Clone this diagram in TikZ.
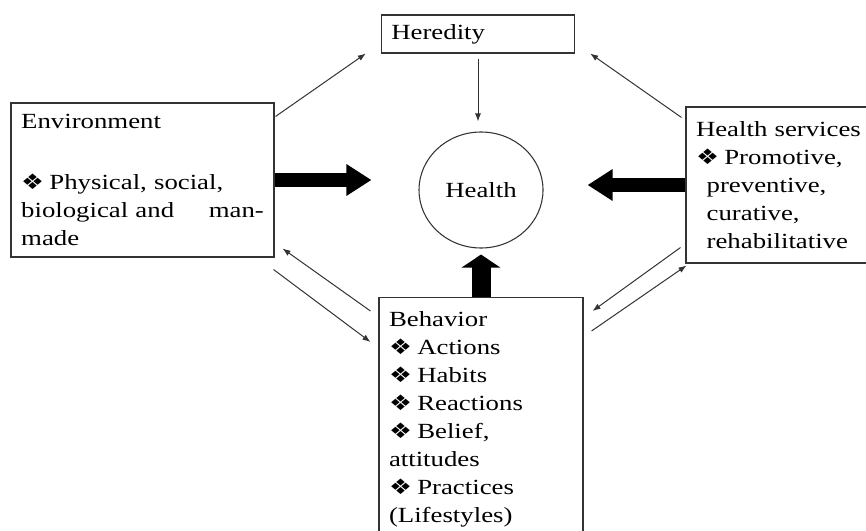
\documentclass[tikz,border=0pt]{standalone}
\usepackage{fontspec}
\setmainfont{Liberation Serif}[FakeStretch=1.24]
\newfontfamily\dingfont{DejaVu Sans}[FakeStretch=1.2]
\usetikzlibrary{arrows.meta,shapes.geometric}
\newcommand{\dia}{{\dingfont\fontsize{16pt}{16pt}\selectfont ❖}\hspace{4pt}}
\begin{document}
\begin{tikzpicture}[x=0.75pt, y=-0.75pt,
    every node/.style={draw=black!80, line width=0.8pt, text=black, font=\fontsize{16.2pt}{21pt}\selectfont},
    box/.style={rectangle, align=left, inner xsep=7.5pt},
    thin/.style={draw=black!80, line width=0.75pt, -{Latex[length=6pt,width=4.5pt]}},
    fat/.style={draw=black, line width=10.5pt, -{Triangle[length=18.75pt,width=22.5pt]}}]
    \useasboundingbox (0,0) rectangle (866,531);

    \node[box, text width=130pt, minimum width=112.5pt, minimum height=28.5pt] (hered) at (478,34) {Heredity};
    \node[ellipse, inner sep=0pt, minimum width=93pt, minimum height=87pt] (health) at (481,190) {Health};
    \node[box, text width=182pt, minimum width=197.25pt, minimum height=115.5pt] (env) at (142.5,180)
        {Environment\\[24.75pt]\dia Physical, social,\\biological and\hfill man-\\made};
    \node[box, text width=130.5pt, minimum width=145.5pt, minimum height=117pt] (hs) at (783,185)
        {Health services\\\dia Promotive,\\\hspace*{8pt}preventive,\\\hspace*{8pt}curative,\\\hspace*{8pt}rehabilitative};
    % behavior box runs off the bottom edge
    \node[box, anchor=north, text width=138pt, inner ysep=10.5pt] (beh) at (481,297)
        {Behavior\\\dia Actions\\\dia Habits\\\dia Reactions\\\dia Belief,\\attitudes\\\dia Practices\\(Lifestyles)\\[10pt]};

    \draw[fat] (env.east) -- (env.east -| health.west) [shorten >=35.25pt];
    \draw[fat] (hs.west) -- (hs.west -| health.east) [shorten >=33pt];
    \draw[fat, line width=14.25pt, -{Triangle[length=9.75pt,width=28.5pt]}, shorten >=4.5pt] (beh.north) -- (health.south);

    \draw[thin, shorten <=3.75pt, shorten >=7.5pt] (hered.south) -- (hered.south |- health.north);
    \draw[thin] ([xshift=0.75pt,yshift=-10.5pt]env.north east) -- ([xshift=-11.25pt]hered.south west);
    \draw[thin] ([xshift=-3pt,yshift=-8.25pt]hs.north west) -- ([xshift=11.25pt]hered.south east);
    \draw[thin] ([xshift=-6pt,yshift=-10.5pt]beh.north west) -- ([xshift=6pt,yshift=6.75pt]env.south east);
    \draw[thin] ([xshift=-0.75pt,yshift=-9pt]env.south east) -- ([xshift=-6pt,yshift=-33.75pt]beh.north west);
    \draw[thin] ([xshift=-3.75pt,yshift=12pt]hs.south west) -- ([xshift=6.75pt,yshift=-10.5pt]beh.north east);
    \draw[thin] ([xshift=6pt,yshift=-25.5pt]beh.north east) -- ([xshift=0.75pt,yshift=-1.5pt]hs.south west);
\end{tikzpicture}
\end{document}
